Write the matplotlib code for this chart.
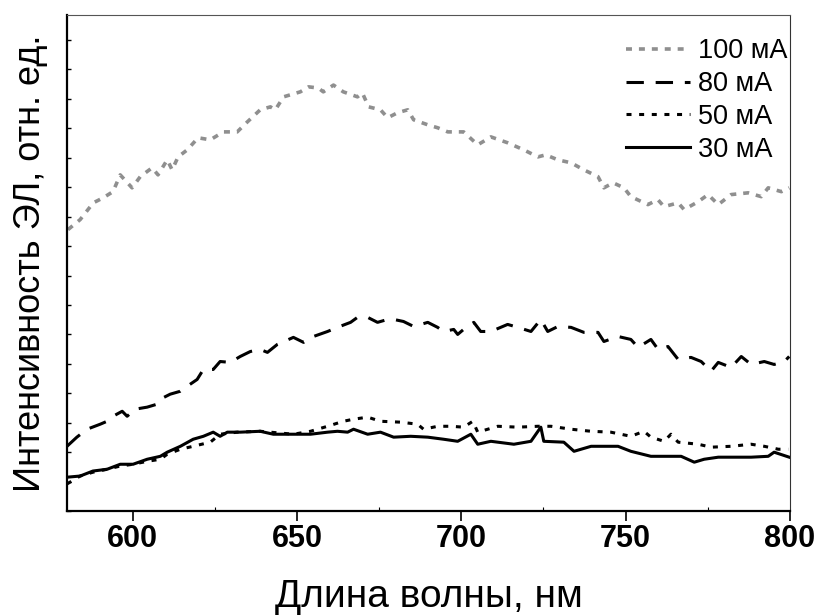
import matplotlib
matplotlib.use("Agg")
import matplotlib.pyplot as plt
from matplotlib.ticker import MultipleLocator

plt.rcParams["font.family"] = ["Liberation Sans", "DejaVu Sans"]
plt.rcParams["lines.scale_dashes"] = False

# 100 mA (grey dotted)
wl_100 = [580.3, 584.0, 588.0, 591.0, 594.0, 596.2, 599.8, 602.3, 605.9, 607.7,
          610.5, 612.0, 613.8, 616.6, 619.9, 623.6, 627.6, 631.8, 634.9, 638.8,
          641.9, 643.4, 645.9, 651.0, 653.5, 656.5, 658.0, 661.1, 664.1, 668.4,
          669.9, 671.8, 675.4, 677.6, 680.6, 683.7, 685.5, 689.8, 692.8, 695.9,
          700.7, 705.0, 709.0, 714.1, 719.0, 723.3, 725.7, 729.4, 733.4, 737.3,
          741.6, 743.4, 746.2, 749.5, 751.6, 756.8, 759.8, 761.7, 766.0, 767.8,
          772.1, 775.1, 778.2, 782.1, 787.3, 791.3, 793.4, 797.4, 799.8]
int_100 = [9.56, 9.90, 10.47, 10.64, 10.85, 11.42, 10.98, 11.36, 11.66, 11.42,
           11.93, 11.59, 12.03, 12.27, 12.68, 12.61, 12.88, 12.88, 13.22, 13.63,
           13.73, 13.63, 14.07, 14.24, 14.41, 14.37, 14.24, 14.47, 14.24, 14.07,
           14.20, 13.73, 13.63, 13.36, 13.53, 13.63, 13.29, 13.12, 13.02, 12.88,
           12.88, 12.44, 12.71, 12.51, 12.27, 12.03, 12.10, 11.93, 11.83, 11.59,
           11.36, 10.98, 11.15, 10.98, 10.68, 10.41, 10.58, 10.34, 10.47, 10.24,
           10.51, 10.75, 10.41, 10.75, 10.81, 10.68, 10.98, 10.85, 10.98]

# 80 mA (long dashes)
wl_80 = [580.0, 583.0, 586.1, 590.1, 592.2, 594.0, 596.8, 598.3, 600.7, 604.4,
         607.4, 608.4, 611.4, 614.5, 616.6, 619.6, 621.5, 624.5, 626.6, 629.7,
         632.7, 635.8, 638.8, 641.0, 644.0, 648.9, 652.0, 655.0, 659.3, 662.3,
         666.3, 668.4, 671.5, 674.5, 677.6, 679.4, 682.4, 685.5, 689.8, 692.8,
         694.6, 697.7, 698.9, 700.7, 703.8, 705.9, 709.0, 714.1, 717.2, 721.2,
         724.2, 726.3, 729.4, 733.4, 737.3, 741.6, 743.4, 747.7, 751.6, 753.8,
         757.7, 759.9, 762.9, 766.0, 769.9, 773.0, 776.0, 778.2, 782.1, 785.2,
         788.2, 792.2, 795.2, 798.3, 799.8]
int_80 = [2.20, 2.51, 2.78, 2.95, 3.05, 3.22, 3.39, 3.22, 3.46, 3.53,
          3.63, 3.80, 3.97, 4.07, 4.24, 4.47, 4.81, 4.81, 5.08, 5.05,
          5.25, 5.42, 5.49, 5.39, 5.66, 5.90, 5.73, 5.93, 6.10, 6.24,
          6.41, 6.58, 6.58, 6.41, 6.51, 6.51, 6.44, 6.27, 6.41, 6.24,
          6.10, 6.17, 6.00, 6.17, 6.41, 6.10, 6.10, 6.34, 6.24, 6.10,
          6.51, 6.10, 6.27, 6.24, 6.07, 6.07, 5.76, 5.93, 5.83, 5.56,
          5.83, 5.49, 5.59, 5.15, 5.22, 5.08, 4.75, 5.05, 4.88, 5.25,
          4.98, 5.08, 4.98, 5.08, 5.25]

# 50 mA (short dashes)
wl_50 = [580.0, 584.0, 587.9, 592.2, 596.2, 600.1, 604.4, 608.4, 610.5, 614.5,
         618.4, 623.6, 626.6, 631.8, 638.8, 648.9, 654.1, 659.3, 664.1, 667.2,
         671.5, 675.4, 681.5, 686.7, 688.5, 692.8, 696.8, 700.7, 703.5, 705.0,
         711.1, 717.2, 723.3, 727.3, 733.4, 739.5, 745.5, 751.6, 755.6, 757.7,
         761.7, 763.8, 766.0, 772.1, 776.0, 782.1, 788.2, 792.2, 796.5, 799.5]
int_50 = [0.92, 1.19, 1.32, 1.42, 1.53, 1.59, 1.69, 1.76, 1.93, 2.10,
          2.20, 2.34, 2.61, 2.68, 2.71, 2.61, 2.71, 2.88, 3.05, 3.12,
          3.19, 3.05, 3.02, 2.95, 2.78, 2.88, 2.88, 2.85, 3.05, 2.68,
          2.88, 2.85, 2.88, 2.88, 2.78, 2.71, 2.68, 2.54, 2.71, 2.51,
          2.37, 2.61, 2.34, 2.27, 2.17, 2.20, 2.27, 2.20, 2.10, 2.10]

# 30 mA (solid)
wl_30 = [580.0, 584.0, 587.9, 592.2, 596.2, 600.1, 604.4, 608.4, 610.5, 614.5,
         618.4, 621.5, 624.5, 626.6, 628.8, 632.7, 638.8, 642.8, 648.9, 654.1,
         659.3, 662.3, 665.4, 667.2, 671.5, 675.4, 679.4, 684.6, 689.8, 694.6,
         698.9, 702.9, 705.0, 709.0, 716.0, 721.2, 724.2, 725.1, 731.2, 734.3,
         739.5, 747.7, 751.6, 757.7, 766.9, 770.9, 773.9, 778.2, 782.1, 788.2,
         793.4, 795.2, 799.8]
int_30 = [1.15, 1.19, 1.36, 1.42, 1.59, 1.59, 1.76, 1.86, 2.00, 2.20,
          2.44, 2.54, 2.68, 2.54, 2.68, 2.68, 2.71, 2.61, 2.61, 2.61,
          2.68, 2.71, 2.68, 2.78, 2.61, 2.68, 2.51, 2.54, 2.51, 2.44,
          2.37, 2.61, 2.27, 2.37, 2.27, 2.37, 2.85, 2.37, 2.34, 2.03,
          2.20, 2.20, 2.03, 1.86, 1.86, 1.66, 1.76, 1.83, 1.83, 1.83,
          1.86, 2.00, 1.83]

labels = ["100 мА", "80 мА", "50 мА", "30 мА"]

fig = plt.figure(figsize=(8.15, 6.15), dpi=100)
ax = fig.add_axes([0.0822, 0.169, 0.887, 0.8066])

l100, = ax.plot(wl_100, int_100, color="#8f8f8f", lw=2.6, dashes=(4.3, 5.0))
l80, = ax.plot(wl_80, int_80, color="black", lw=2.2, dashes=(12.5, 8.5))
l50, = ax.plot(wl_50, int_50, color="black", lw=2.2, dashes=(3.6, 5.5))
l30, = ax.plot(wl_30, int_30, color="black", lw=2.2)

ax.set_xlim(580, 800)
ax.set_ylim(0, 16.85)
ax.xaxis.set_major_locator(MultipleLocator(50))
ax.xaxis.set_minor_locator(MultipleLocator(25))
ax.yaxis.set_major_locator(MultipleLocator(1))
ax.set_yticklabels([])

ax.tick_params(axis="x", which="major", direction="out", length=7,
               width=1.2, labelsize=22, pad=2)
ax.tick_params(axis="x", which="minor", direction="in", length=3, width=0.8)
ax.tick_params(axis="y", which="major", direction="in", length=3,
               width=1.0, left=True, right=False)
for t in ax.get_xticklabels():
    t.set_fontweight("bold")

ax.spines["left"].set_linewidth(1.6)
ax.spines["bottom"].set_linewidth(1.6)
ax.spines["top"].set_linewidth(0.8)
ax.spines["right"].set_linewidth(0.8)
ax.spines["top"].set_color("#555555")
ax.spines["right"].set_color("#333333")

ax.set_xlabel("Длина волны, нм", fontsize=28, labelpad=18)
ax.set_ylabel("Интенсивность ЭЛ, отн. ед.", fontsize=26, labelpad=10)

ax.legend([l100, l80, l50, l30], labels, loc="upper right",
          bbox_to_anchor=(1.012, 0.975), frameon=False, fontsize=19.5,
          handlelength=2.35, handletextpad=0.3, labelspacing=0.25,
          borderaxespad=0.0)

fig.savefig("out.png", dpi=100)
